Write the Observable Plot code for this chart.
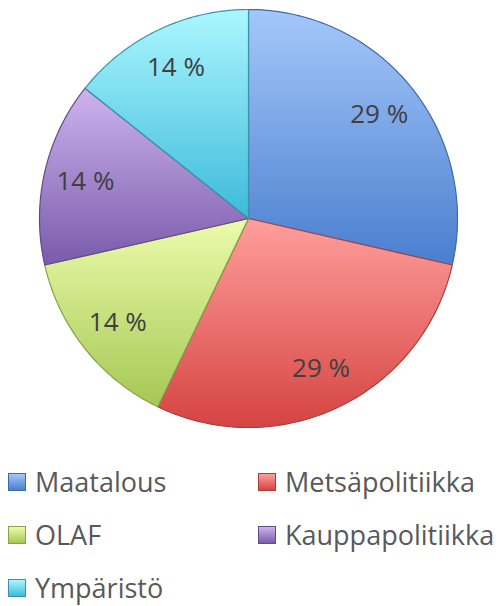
<!DOCTYPE html>
<html>
<head>
<meta charset="utf-8">
<script src="https://cdn.jsdelivr.net/npm/d3@7"></script>
<script src="https://cdn.jsdelivr.net/npm/@observablehq/plot@0.6"></script>
<style>
  body { margin: 0; background: #fff; font-family: "Open Sans", Lato, sans-serif; }
  #chart { width: 502px; height: 606px; position: relative; overflow: hidden; }
  #legend { display: grid; grid-template-columns: 250px 252px; padding-left: 8px; margin-top: 15px; }
  .item { display: flex; align-items: center; height: 53px; line-height: 53px; font-size: 27px; color: #595959; white-space: nowrap; }
  .sw { width: 18px; height: 18px; margin-right: 9px; box-sizing: border-box; flex: none; }
</style>
</head>
<body>
<div id="chart"></div>
<script>
const categories = ["Maatalous", "Metsäpolitiikka", "OLAF", "Kauppapolitiikka", "Ympäristö"];
const values = [2, 2, 1, 1, 1];
const labels = ["29 %", "29 %", "14 %", "14 %", "14 %"];
const topColors = ["#a5c8fa", "#ff9f9c", "#ecfbab", "#cdb4ee", "#abf7ff"];
const bottomColors = ["#4a7ecf", "#d54442", "#a5c855", "#7a5aab", "#3dbadb"];
const edgeColors = ["#3d6aa8", "#a83e3c", "#86a24a", "#634c86", "#3a93aa"];

const pie = d3.pie().sort(null).value(d => d)(values);
// slice outlines in data space (unit circle, clockwise from 12 o'clock)
const outline = [];
pie.forEach((p, i) => {
  outline.push({k: i, x: 0, y: 0});
  const n = 80;
  for (let j = 0; j <= n; j++) {
    const a = p.startAngle + (p.endAngle - p.startAngle) * j / n;
    outline.push({k: i, x: Math.sin(a), y: Math.cos(a)});
  }
  outline.push({k: i, x: 0, y: 0});
});
const labelPts = pie.map((p, i) => {
  const a = (p.startAngle + p.endAngle) / 2;
  return {label: labels[i], x: 0.8 * Math.sin(a), y: 0.8 * Math.cos(a)};
});

const defs = () => {
  const d = d3.create("svg:defs");
  categories.forEach((c, i) => {
    const g = d.append("linearGradient").attr("id", "g" + i).attr("x1", 0).attr("y1", 0).attr("x2", 0).attr("y2", 1);
    g.append("stop").attr("offset", "0%").attr("stop-color", topColors[i]);
    g.append("stop").attr("offset", "100%").attr("stop-color", bottomColors[i]);
  });
  return d.node();
};

const plot = Plot.plot({
  width: 502,
  height: 440,
  marginLeft: 39, marginRight: 45, marginTop: 9, marginBottom: 13,
  x: {domain: [-1, 1], axis: null},
  y: {domain: [-1, 1], axis: null},
  marks: [
    defs,
    ...categories.map((c, i) => Plot.line(outline.filter(d => d.k === i), {
      x: "x", y: "y",
      fill: `url(#g${i})`,
      stroke: edgeColors[i],
      strokeWidth: 1.2,
      strokeLinejoin: "round",
      curve: "linear"
    })),
    Plot.text(labelPts, {
      x: "x", y: "y", text: "label",
      fontSize: 26, fill: "#404040",
      fontFamily: "'Open Sans', Lato, sans-serif"
    })
  ]
});
const chart = document.getElementById("chart");
chart.appendChild(plot);

const legend = document.createElement("div");
legend.id = "legend";
categories.forEach((c, i) => {
  const it = document.createElement("div");
  it.className = "item";
  const sw = document.createElement("span");
  sw.className = "sw";
  sw.style.background = `linear-gradient(${topColors[i]}, ${bottomColors[i]})`;
  sw.style.border = `1px solid ${edgeColors[i]}`;
  it.appendChild(sw);
  it.appendChild(document.createTextNode(c));
  legend.appendChild(it);
});
chart.appendChild(legend);
</script>
</body>
</html>
